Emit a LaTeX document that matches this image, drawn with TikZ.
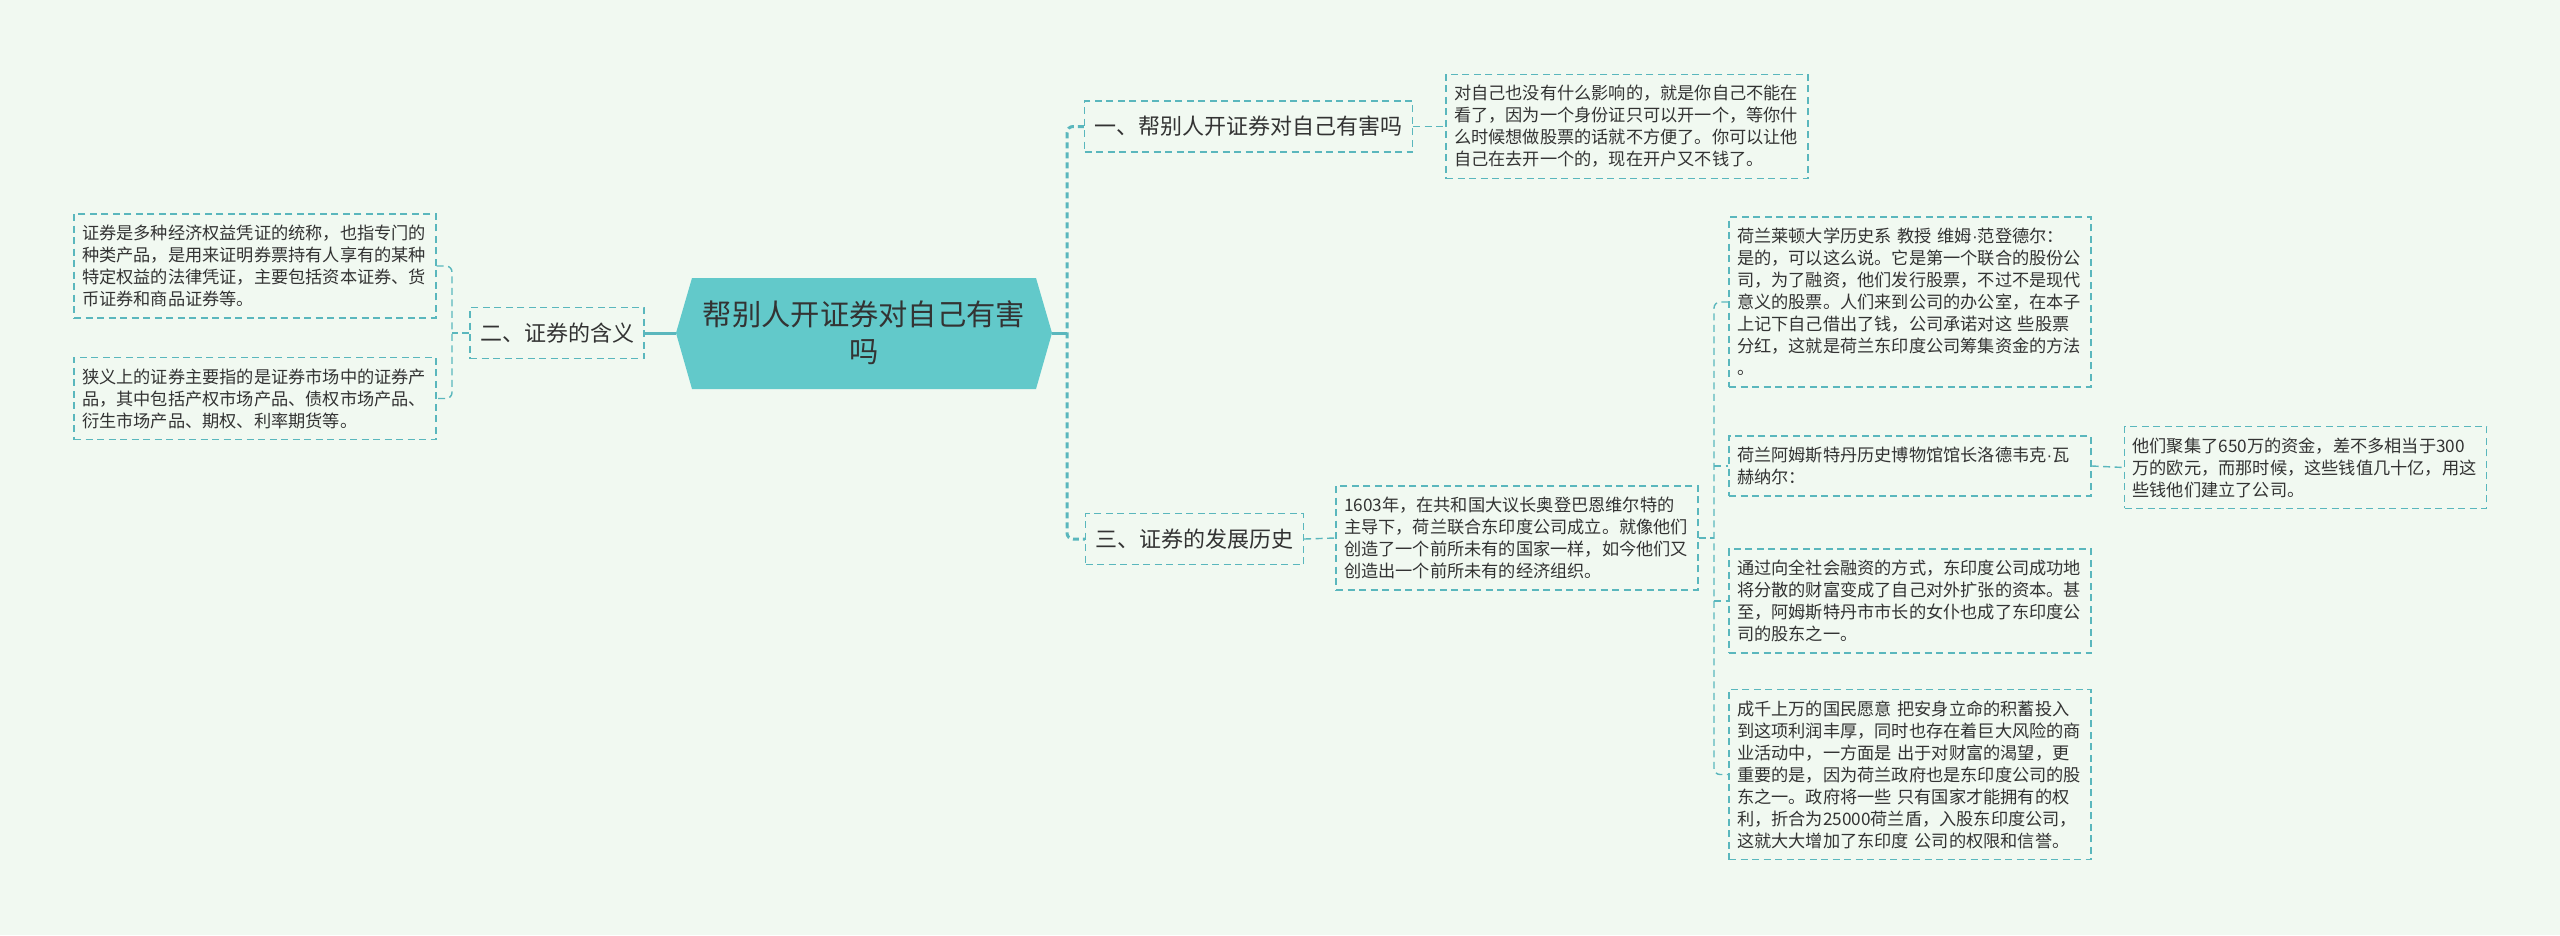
\documentclass[tikz,border=0pt]{standalone}
\usepackage{fontspec}
\setmainfont{Noto Sans CJK SC}
\newfontfamily\latn{Liberation Sans}
\newcommand{\mdot}{{\latn ·}}
\definecolor{bg}{RGB}{241,249,241}
\definecolor{lc}{RGB}{90,183,189}
\definecolor{hexc}{RGB}{98,201,202}
\definecolor{txt}{RGB}{51,51,51}
\begin{document}
\begin{tikzpicture}[x=1pt,y=-1pt,
  box/.style={draw=lc, line width=1.4pt, dash pattern=on 7pt off 4.5pt, text=txt},
  leaf/.style={box, font=\fontsize{17.2}{22}\selectfont, text width=346pt, align=left, inner xsep=8pt, inner ysep=11pt},
  lvl/.style={box, font=\fontsize{22}{26}\selectfont, inner xsep=10pt, minimum height=51pt},
  conn/.style={draw=lc, line width=1.4pt, dash pattern=on 7pt off 4.5pt, rounded corners=6pt},
  trunk/.style={draw=lc, line width=3pt, dash pattern=on 6pt off 4pt, rounded corners=6pt},
  solidc/.style={draw=lc, line width=3pt}]
\fill[bg] (0,0) rectangle (2560,935);
\useasboundingbox (0,0) rectangle (2560,935);
% central hexagon
\fill[hexc] (676,333) -- (692,278) -- (1036,278) -- (1052,333) -- (1036,389) -- (692,389) -- cycle;
\node[minimum width=376pt, minimum height=111pt, inner sep=0pt, align=center, text=txt,
  font=\fontsize{29.3}{37}\selectfont] (c) at (864,333) {帮别人开证券对自己有害\\吗};
% left branch
\node[lvl] (n2) at (557,333) {二、证券的含义};
\node[leaf] (l1) at (255,266) {证券是多种经济权益凭证的统称，也指专门的\\种类产品，是用来证明券票持有人享有的某种\\特定权益的法律凭证，主要包括资本证券、货\\币证券和商品证券等。};
\node[leaf] (l2) at (255,398.5) {狭义上的证券主要指的是证券市场中的证券产\\品，其中包括产权市场产品、债权市场产品、\\衍生市场产品、期权、利率期货等。};
% right branches
\node[lvl] (n1) at (1248.5,126.5) {一、帮别人开证券对自己有害吗};
\node[leaf] (t1) at (1627,126.5) {对自己也没有什么影响的，就是你自己不能在\\看了，因为一个身份证只可以开一个，等你什\\么时候想做股票的话就不方便了。你可以让他\\自己在去开一个的，现在开户又不钱了。};
\node[lvl] (n3) at (1194.5,539) {三、证券的发展历史};
\node[leaf] (h) at (1517,538) {1603年，在共和国大议长奥登巴恩维尔特的\\主导下，荷兰联合东印度公司成立。就像他们\\创造了一个前所未有的国家一样，如今他们又\\创造出一个前所未有的经济组织。};
\node[leaf] (a) at (1910,302) {荷兰莱顿大学历史系 教授 维姆\mdot 范登德尔：\\是的，可以这么说。它是第一个联合的股份公\\司，为了融资，他们发行股票，不过不是现代\\意义的股票。人们来到公司的办公室，在本子\\上记下自己借出了钱，公司承诺对这 些股票\\分红，这就是荷兰东印度公司筹集资金的方法\\。};
\node[leaf] (b) at (1910,466) {荷兰阿姆斯特丹历史博物馆馆长洛德韦克\mdot 瓦\\赫纳尔：};
\node[leaf] (e) at (2305.5,467.5) {他们聚集了650万的资金，差不多相当于300\\万的欧元，而那时候，这些钱值几十亿，用这\\些钱他们建立了公司。};
\node[leaf] (cc) at (1910,601) {通过向全社会融资的方式，东印度公司成功地\\将分散的财富变成了自己对外扩张的资本。甚\\至，阿姆斯特丹市市长的女仆也成了东印度公\\司的股东之一。};
\node[leaf] (d) at (1910,774.5) {成千上万的国民愿意 把安身立命的积蓄投入\\到这项利润丰厚，同时也存在着巨大风险的商\\业活动中，一方面是 出于对财富的渴望，更\\重要的是，因为荷兰政府也是东印度公司的股\\东之一。政府将一些 只有国家才能拥有的权\\利，折合为25000荷兰盾，入股东印度公司，\\这就大大增加了东印度 公司的权限和信誉。};
% connectors
\coordinate (bR) at (1067,333);
\coordinate (bL) at (452,333);
\coordinate (bH) at (1714,538);
\draw[solidc] (c.east) -- (bR);
\draw[trunk] (n1.west) -| (bR) |- (n3.west);
\draw[solidc] (c.west) -- (n2.east);
\draw[conn] (n2.west) -- (bL);
\draw[conn] (l1.east) -| (bL) |- (l2.east);
\draw[conn] (n1.east) -- (t1.west);
\draw[conn] (n3.east) -- (h.west);
\draw[conn] (h.east) -- (bH);
\draw[conn] (a.west) -| (bH) |- (d.west);
\draw[conn] (bH |- b.west) -- (b.west);
\draw[conn] (bH |- cc.west) -- (cc.west);
\draw[conn] (b.east) -- (e.west);
\end{tikzpicture}
\end{document}
